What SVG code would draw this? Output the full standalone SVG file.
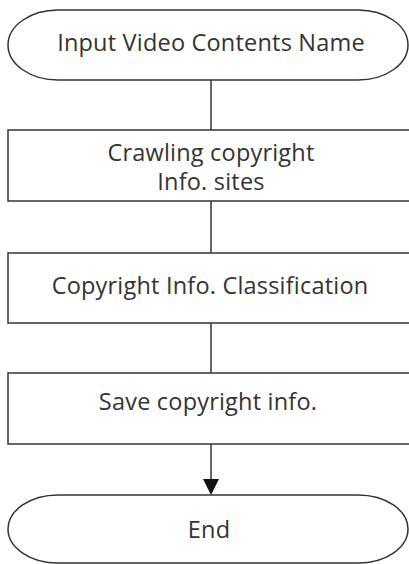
<svg xmlns="http://www.w3.org/2000/svg" width="409" height="564" viewBox="0 0 409 564">
<style>
.shape{fill:#fff;stroke:#333;stroke-width:1.5}
.lbl{font-family:"Open Sans","Noto Sans",sans-serif;font-size:23.5px;fill:#333;text-anchor:middle;letter-spacing:0.2px}
.conn{stroke:#333;stroke-width:1.5;fill:none}
</style>
<rect width="409" height="564" fill="#fff"/>
<g id="connectors">
<line class="conn" x1="211" y1="80" x2="211" y2="130"/>
<line class="conn" x1="211" y1="201" x2="211" y2="253"/>
<line class="conn" x1="211" y1="323" x2="211" y2="373"/>
<path class="conn" d="M211,444 V479"/>
<path d="M203,479 H219 L211,495 Z" fill="#111"/>
</g>
<g id="start">
<path class="shape" d="M58,10 H358 A50,35 0 0 1 358,80 H58 A50,35 0 0 1 58,10 Z"/>
<text class="lbl" x="211" y="51">Input Video Contents Name</text>
</g>
<g id="crawl">
<rect class="shape" x="8" y="130" width="408" height="71"/>
<text class="lbl" x="211" y="161">Crawling copyright</text>
<text class="lbl" x="211" y="190">Info. sites</text>
</g>
<g id="classify">
<rect class="shape" x="8" y="253" width="408" height="70"/>
<text class="lbl" x="210" y="294">Copyright Info. Classification</text>
</g>
<g id="save">
<rect class="shape" x="8" y="373" width="408" height="71"/>
<text class="lbl" x="208" y="410">Save copyright info.</text>
</g>
<g id="end">
<path class="shape" d="M58,495 H358 A50,34 0 0 1 358,563 H58 A50,34 0 0 1 58,495 Z"/>
<text class="lbl" x="209" y="538">End</text>
</g>
</svg>
